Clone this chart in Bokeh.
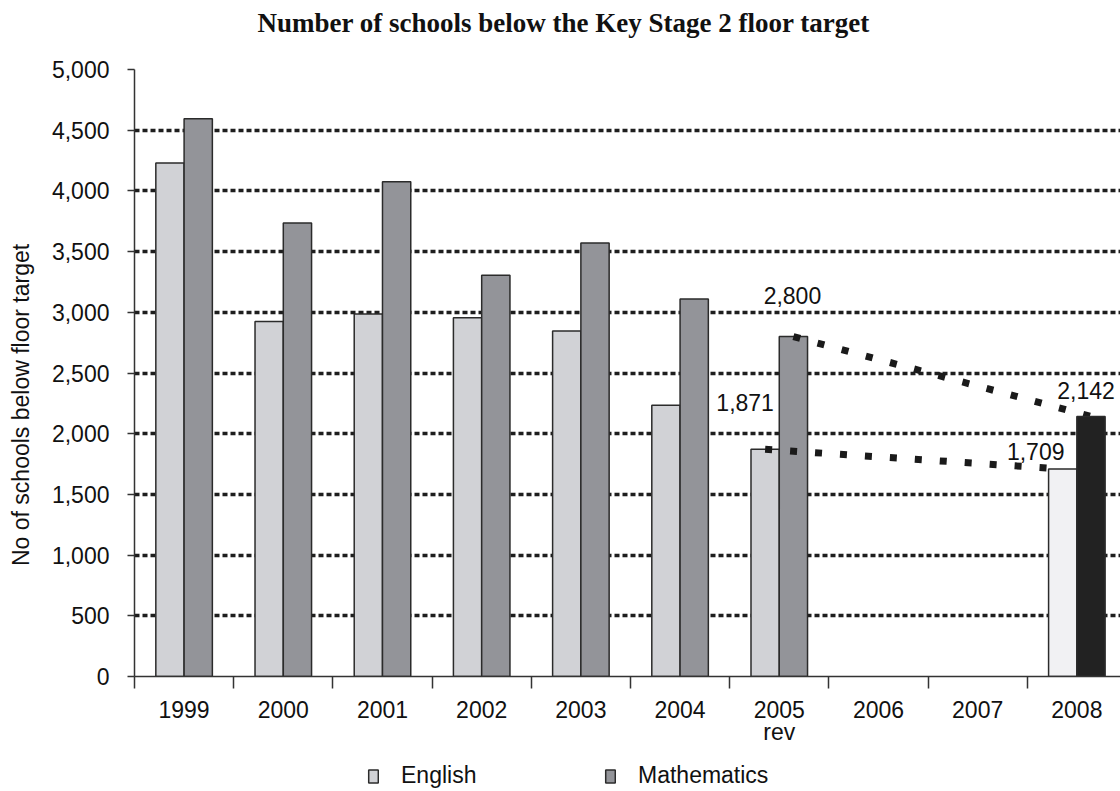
import math
from bokeh.plotting import figure
from bokeh.layouts import column
from bokeh.models import (ColumnDataSource, FixedTicker, NumeralTickFormatter, Legend,
                          LegendItem, Range1d)
from bokeh.core.properties import value
from bokeh.embed import file_html
from bokeh.resources import INLINE

# ---------------- data ----------------
years = ["1999", "2000", "2001", "2002", "2003", "2004", "2005", "2006", "2007", "2008"]
year_labels = ["1999", "2000", "2001", "2002", "2003", "2004", "2005\nrev", "2006", "2007", "2008"]
english = [4230, 2925, 2985, 2955, 2845, 2235, 1871, None, None, 1709]
mathematics = [4595, 3735, 4075, 3305, 3570, 3110, 2800, None, None, 2142]
y_ticks = [0, 500, 1000, 1500, 2000, 2500, 3000, 3500, 4000, 4500, 5000]
highlight_year = "2008"
trend_years = ["2005", "2008"]
title_text = "Number of schools below the Key Stage 2 floor target"
y_title = "No of schools below floor target"
series_names = ["English", "Mathematics"]

# ---------------- style ----------------
SANS = "Liberation Sans"
SERIF = "Liberation Serif"
FS = "23px"
BAR_W = 0.285
C_ENG, C_MATH = "#d1d2d6", "#939499"
C_ENG_HI, C_MATH_HI = "#f1f1f3", "#222222"
C_LINE = "#2b2b2b"
MAIN_H, LEG_H = 755, 36
# label offsets (screen px) relative to bar top centre: (dx, dy)
label_offsets = {("English", "2005"): (-20, -47), ("Mathematics", "2005"): (-1, -41),
                 ("English", "2008"): (-27, -18), ("Mathematics", "2008"): (-5, -26)}

idx = {y: i for i, y in enumerate(years)}
centers = [i + 0.5 for i in range(len(years))]
bounds = [float(i) for i in range(len(years) + 1)]

def bar_source(series, keep):
    xs, tops = [], []
    for i, y in enumerate(years):
        if series[i] is not None and keep(y):
            xs.append(i + 0.5)
            tops.append(series[i])
    return xs, tops

p = figure(width=1120, height=MAIN_H, output_backend="svg", toolbar_location=None,
           x_range=Range1d(0, 9.94), y_range=Range1d(0, 5000),
           min_border_left=134, min_border_right=0, min_border_top=69, min_border_bottom=79)
p.outline_line_color = None
p.background_fill_color = "white"

# grid
p.xgrid.visible = False
p.ygrid.ticker = FixedTicker(ticks=y_ticks)
p.ygrid.grid_line_color = "#1e1e1e"
p.ygrid.grid_line_width = 3.5
p.ygrid.grid_line_dash = "5 3"

# main bars
ex, ey = bar_source(english, lambda y: y != highlight_year)
mx, my = bar_source(mathematics, lambda y: y != highlight_year)
p.vbar(x=[x - BAR_W / 2 for x in ex], top=ey, width=BAR_W, bottom=0,
       fill_color=C_ENG, line_color=C_LINE, line_width=1.5)
p.vbar(x=[x + BAR_W / 2 for x in mx], top=my, width=BAR_W, bottom=0,
       fill_color=C_MATH, line_color=C_LINE, line_width=1.5)

# trend lines 2005 -> 2008
for series, sign in ((english, -1), (mathematics, 1)):
    tx = [idx[y] + 0.5 + sign * BAR_W / 2 for y in trend_years]
    ty = [series[idx[y]] for y in trend_years]
    p.line(tx, ty, line_color="#1a1a1a", line_width=7, line_dash="7 18")

# highlighted 2008 bars
hx, hy = bar_source(english, lambda y: y == highlight_year)
p.vbar(x=[x - BAR_W / 2 for x in hx], top=hy, width=BAR_W, bottom=0,
       fill_color=C_ENG_HI, line_color=C_LINE, line_width=1.5)
hx, hy = bar_source(mathematics, lambda y: y == highlight_year)
p.vbar(x=[x + BAR_W / 2 for x in hx], top=hy, width=BAR_W, bottom=0,
       fill_color=C_MATH_HI, line_color=C_LINE, line_width=1.5)

# value labels
lx, ly, lt, ldx, ldy = [], [], [], [], []
for name, series, sign in (("English", english, -1), ("Mathematics", mathematics, 1)):
    for y in trend_years:
        v = series[idx[y]]
        lx.append(idx[y] + 0.5 + sign * BAR_W / 2)
        ly.append(v)
        lt.append(f"{v:,}")
        dx, dy = label_offsets[(name, y)]
        ldx.append(dx)
        ldy.append(dy)
src = ColumnDataSource(dict(x=lx, y=ly, t=lt, dx=ldx, dy=ldy))
p.text(x="x", y="y", text="t", x_offset="dx", y_offset="dy", source=src,
       text_font=value(SANS), text_font_size=FS, text_color="#111111",
       text_align="center", text_baseline="middle")

# axes
p.yaxis.ticker = FixedTicker(ticks=y_ticks)
p.yaxis.formatter = NumeralTickFormatter(format="0,0")
p.yaxis.major_label_text_font = SANS
p.yaxis.major_label_text_font_size = FS
p.yaxis.major_label_text_color = "#111111"
p.yaxis.major_tick_out = 7
p.yaxis.major_tick_in = 0
p.yaxis.minor_tick_out = 0
p.yaxis.minor_tick_in = 0
p.yaxis.major_label_standoff = 18
p.yaxis.axis_line_color = "#333333"
p.yaxis.axis_line_width = 1.5
p.yaxis.major_tick_line_color = "#333333"
p.yaxis.major_tick_line_width = 1.5
p.yaxis.axis_label = y_title + "\u00a0" * 10
p.yaxis.axis_label_text_font = SANS
p.yaxis.axis_label_text_font_size = FS
p.yaxis.axis_label_text_font_style = "normal"
p.yaxis.axis_label_text_color = "#111111"
p.yaxis.axis_label_standoff = 15

p.xaxis.ticker = FixedTicker(ticks=centers, minor_ticks=bounds)
p.xaxis.major_label_overrides = {c: lab for c, lab in zip(centers, year_labels)}
p.xaxis.major_label_text_font = SANS
p.xaxis.major_label_text_font_size = FS
p.xaxis.major_label_text_color = "#111111"
p.xaxis.major_label_text_line_height = 0.88
p.xaxis.major_tick_out = 0
p.xaxis.major_tick_in = 0
p.xaxis.minor_tick_out = 12
p.xaxis.minor_tick_in = 0
p.xaxis.minor_tick_line_color = "#333333"
p.xaxis.minor_tick_line_width = 1.5
p.xaxis.major_label_standoff = 8
p.xaxis.axis_line_color = "#333333"
p.xaxis.axis_line_width = 1.5

# title (second, empty line lifts the text into the top margin)
p.title.text = title_text + "\n"
p.title.text_font = SERIF
p.title.text_font_style = "bold"
p.title.text_font_size = "27px"
p.title.align = "left"
p.title.offset = 123
p.title.vertical_align = "bottom"
p.title.standoff = 4
p.title.text_color = "#111111"

# legend strip below the chart (frame is aligned with the chart frame)
lf = figure(width=1120, height=LEG_H, output_backend="svg", toolbar_location=None,
            x_range=Range1d(0, 1), y_range=Range1d(0, 1),
            min_border_left=0, min_border_right=0, min_border_top=0, min_border_bottom=0)
lf.axis.visible = False
lf.grid.visible = False
lf.outline_line_color = None
# legend proxies, placed outside the visible range
g_eng = lf.vbar(x=[5], top=[-4], bottom=[-5], width=0.1, fill_color=C_ENG,
                line_color=C_LINE, line_width=1.5)
g_math = lf.vbar(x=[5], top=[-4], bottom=[-5], width=0.1, fill_color=C_MATH,
                 line_color=C_LINE, line_width=1.5)
legend = Legend(items=[LegendItem(label=series_names[0], renderers=[g_eng]),
                       LegendItem(label=series_names[1], renderers=[g_math])],
                orientation="horizontal", location=(233, 2), spacing=103,
                label_width=100, glyph_width=12, glyph_height=16, label_standoff=22,
                label_text_font=SANS, label_text_font_size=FS, label_text_color="#111111",
                border_line_color=None, background_fill_alpha=0, padding=0, margin=0)
lf.add_layout(legend)

layout = column(p, lf, spacing=0)
open("out.html", "w").write(file_html(layout, INLINE))
